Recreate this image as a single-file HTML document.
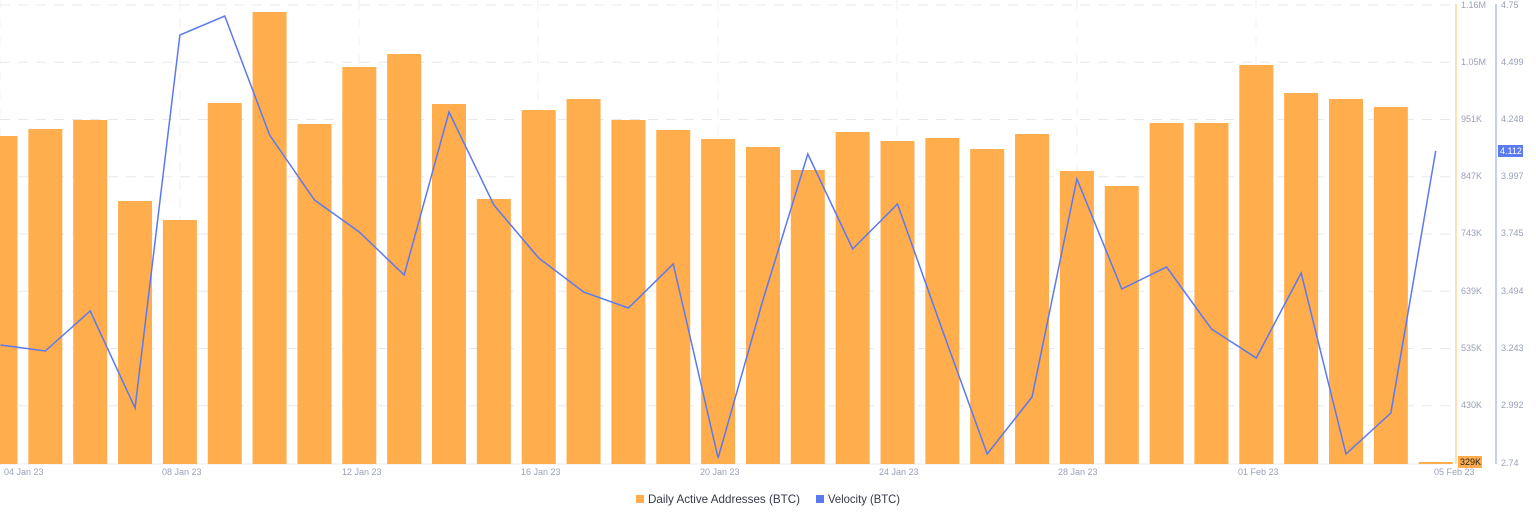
<!DOCTYPE html>
<html><head><meta charset="utf-8"><style>
body{margin:0;background:#fff;width:1536px;height:520px;overflow:hidden;font-family:"Liberation Sans",sans-serif}
svg{display:block}
.t{font-size:9px;fill:#9aa1b8}
.l{font-size:12px;fill:#353a4a}
</style></head><body>
<svg id="s" width="1536" height="520" xmlns="http://www.w3.org/2000/svg">
<g id="grid" stroke="#e6e8ef" stroke-dasharray="10,8" stroke-width="1"></g>
<line x1="0" y1="464" x2="1452" y2="464" stroke="#eceef4"/>
<g id="bars" fill="#ffad4d"></g>
<polyline id="ln" fill="none" stroke="#5b79f0" stroke-width="1.5"/>
<line x1="1456" y1="4" x2="1456" y2="464" stroke="#ffd39a" stroke-width="1.5"/>
<line x1="1496" y1="4" x2="1496" y2="464" stroke="#b0bff5" stroke-width="1.5"/>
<g class="t">
<text x="1461" y="8">1.16M</text><text x="1461" y="65">1.05M</text><text x="1461" y="122">951K</text><text x="1461" y="179">847K</text><text x="1461" y="236">743K</text><text x="1461" y="294">639K</text><text x="1461" y="351">535K</text><text x="1461" y="408">430K</text>
<text x="1501" y="8">4.75</text><text x="1501" y="65">4.499</text><text x="1501" y="122">4.248</text><text x="1501" y="179">3.997</text><text x="1501" y="236">3.745</text><text x="1501" y="294">3.494</text><text x="1501" y="351">3.243</text><text x="1501" y="408">2.992</text><text x="1501" y="466">2.74</text>
<text x="4" y="475">04 Jan 23</text><text x="162" y="475">08 Jan 23</text><text x="342" y="475">12 Jan 23</text><text x="521" y="475">16 Jan 23</text><text x="700" y="475">20 Jan 23</text><text x="879" y="475">24 Jan 23</text><text x="1058" y="475">28 Jan 23</text><text x="1238" y="475">01 Feb 23</text><text x="1434" y="475">05 Feb 23</text>
</g>
<rect x="1458" y="456" width="24" height="12" fill="#ffad4d"/>
<text x="1460" y="465" font-size="9" fill="#222">329K</text>
<rect x="1498" y="145" width="25" height="12" fill="#5b79f0"/>
<text x="1500" y="154" font-size="9" fill="#fff">4.112</text>
<rect x="636" y="495" width="8" height="8" fill="#ffad4d"/>
<text class="l" x="648" y="503" textLength="152" lengthAdjust="spacingAndGlyphs">Daily Active Addresses (BTC)</text>
<rect x="816" y="495" width="8" height="8" fill="#5b79f0"/>
<text class="l" x="828" y="503" textLength="72" lengthAdjust="spacingAndGlyphs">Velocity (BTC)</text>
</svg>
<script>
var ns="http://www.w3.org/2000/svg";
var g=document.getElementById('grid');
for(var i=0;i<8;i++){var y=5+i*57.25;var l=document.createElementNS(ns,'line');l.setAttribute('x1',0);l.setAttribute('x2',1452);l.setAttribute('y1',y);l.setAttribute('y2',y);g.appendChild(l);}
[0,180,359,538,718,897,1077,1256].forEach(function(x){var l=document.createElementNS(ns,'line');l.setAttribute('x1',x);l.setAttribute('x2',x);l.setAttribute('y1',0);l.setAttribute('y2',464);l.setAttribute('stroke','#f0f1f5');g.appendChild(l);});
var tops=[136,129,120,201,220,103,12,124,67,54,104,199,110,99,120,130,139,147,170,132,141,138,149,134,171,186,123,123,65,93,99,107,462];
var ly=[345,351,311,408,35,16,135,200,232,275,112,205,258,292,308,264,458,300,154,249,204,330,454,397,179,289,267,329,358,273,454,413,151];
var b=document.getElementById('bars'),pts=[];
for(var i=0;i<tops.length;i++){var cx=0.5+i*44.85;var r=document.createElementNS(ns,'rect');r.setAttribute('x',cx-17);r.setAttribute('width',34);r.setAttribute('y',tops[i]);r.setAttribute('height',464-tops[i]);b.appendChild(r);pts.push(cx+','+ly[i]);}
document.getElementById('ln').setAttribute('points',pts.join(' '));
</script>
</body></html>
